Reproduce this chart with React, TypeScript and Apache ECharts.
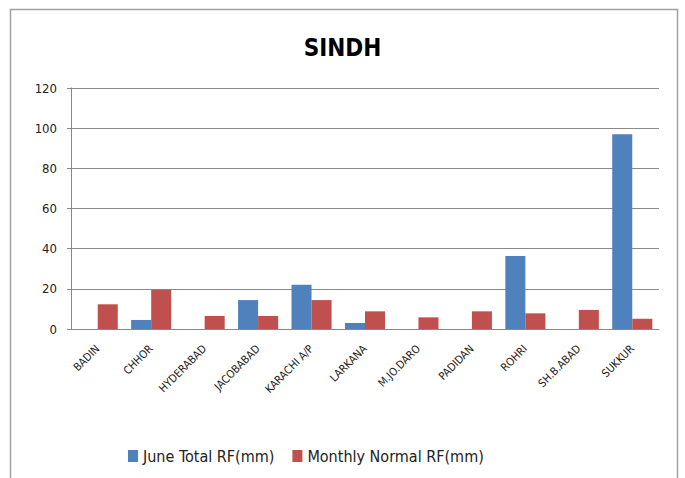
import React, { useEffect, useRef } from "react";
import * as echarts from "echarts";

const categories = ["BADIN", "CHHOR", "HYDERABAD", "JACOBABAD", "KARACHI A/P", "LARKANA", "M.JO.DARO", "PADIDAN", "ROHRI", "SH.B.ABAD", "SUKKUR"];
const juneTotal = [0, 4.5, 0, 14.4, 22, 3, 0, 0, 36.3, 0, 97];
const monthlyNormal = [12.3, 19.5, 6.5, 6.5, 14.4, 8.8, 5.8, 8.8, 7.8, 9.5, 5.1];
const seriesNames = ["June Total RF(mm)", "Monthly Normal RF(mm)"];
const title = "SINDH";

const FONT = "DejaVu Sans Condensed, Open Sans, sans-serif";

export default function App() {
  const ref = useRef<HTMLDivElement>(null);
  useEffect(() => {
    const chart = echarts.init(ref.current!, null, { renderer: "svg" });
    chart.setOption({
      animation: false,
      backgroundColor: "#ffffff",
      title: {
        text: title,
        left: "center",
        top: 31,
        textStyle: { fontFamily: FONT, fontSize: 24, fontWeight: "bold", color: "#000" },
      },
      graphic: [
        {
          type: "rect",
          shape: { x: 10.5, y: 9.5, width: 667, height: 480 },
          style: { fill: "none", stroke: "#a0a0a0", lineWidth: 1.5 },
          silent: true,
        },
      ],
      legend: {
        left: 123,
        top: 443,
        itemWidth: 10,
        itemHeight: 12,
        itemGap: 18,
        icon: "rect",
        textStyle: { fontFamily: FONT, fontSize: 16, color: "#222" },
        data: seriesNames,
      },
      grid: { left: 71, right: 26, top: 88, height: 241, containLabel: false },
      xAxis: {
        type: "category",
        data: categories,
        axisLine: { lineStyle: { color: "#888", width: 1 } },
        axisTick: { show: false },
        axisLabel: {
          rotate: 45,
          interval: 0,
          margin: 18,
          fontFamily: FONT,
          fontSize: 11,
          color: "#222",
        },
      },
      yAxis: {
        type: "value",
        min: 0,
        max: 120,
        interval: 20,
        axisLine: { show: true, lineStyle: { color: "#888", width: 1 } },
        axisTick: { show: true, length: 4, lineStyle: { color: "#888" } },
        splitLine: { lineStyle: { color: "#8a8a8a", width: 1 } },
        axisLabel: { fontFamily: FONT, fontSize: 13, color: "#222", margin: 14 },
      },
      series: [
        {
          name: seriesNames[0],
          type: "bar",
          data: juneTotal,
          barGap: "0%",
          barCategoryGap: "25%",
          itemStyle: { color: "#4f81bd" },
        },
        {
          name: seriesNames[1],
          type: "bar",
          data: monthlyNormal,
          barGap: "0%",
          barCategoryGap: "25%",
          itemStyle: { color: "#c0504d" },
        },
      ],
    });
    return () => chart.dispose();
  }, []);
  return <div ref={ref} style={{ position: "fixed", left: 0, top: 0, width: 685, height: 478 }} />;
}
